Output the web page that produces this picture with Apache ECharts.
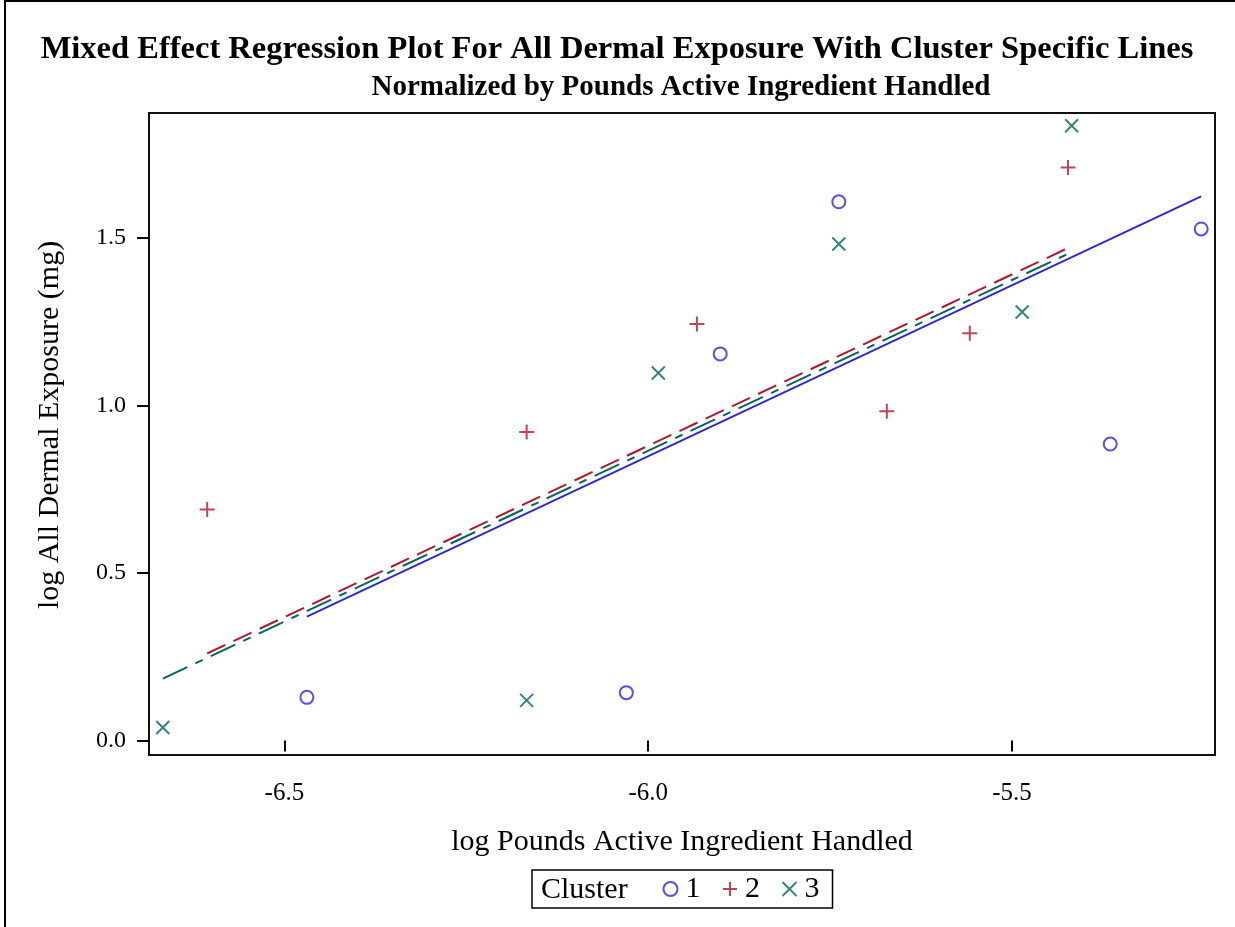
<!DOCTYPE html>
<html>
<head>
<meta charset="utf-8">
<script src="https://cdn.jsdelivr.net/npm/echarts@6/dist/echarts.min.js"></script>
<style>
html,body{margin:0;padding:0;background:#fff;}
#chart{width:1235px;height:927px;}
</style>
</head>
<body>
<div id="chart"></div>
<script>
// ---- Data ----
const cluster1X = [-6.469, -6.030, -5.901, -5.738, -5.365, -5.240];
const cluster1Y = [0.129, 0.143, 1.154, 1.608, 0.885, 1.527];
const cluster2X = [-6.606, -6.167, -5.933, -5.672, -5.558, -5.423];
const cluster2Y = [0.690, 0.921, 1.243, 0.983, 1.216, 1.710];
const cluster3X = [-6.667, -6.167, -5.986, -5.738, -5.486, -5.418];
const cluster3Y = [0.039, 0.120, 1.097, 1.482, 1.279, 1.835];

const fit1X = [-6.469, -5.240];
const fit1Y = [0.370, 1.624];
const fit2X = [-6.606, -5.423];
const fit2Y = [0.260, 1.470];
const fit3X = [-6.667, -5.418];
const fit3Y = [0.185, 1.458];

const clusterNames = ['1', '2', '3'];
const xTicks = [-6.5, -6.0, -5.5];
const yTicks = [0.0, 0.5, 1.0, 1.5];

const titleText = 'Mixed Effect Regression Plot For All Dermal Exposure With Cluster Specific Lines';
const subtitleText = 'Normalized by Pounds Active Ingredient Handled';
const xAxisTitle = 'log Pounds Active Ingredient Handled';
const yAxisTitle = 'log All Dermal Exposure (mg)';
const legendTitle = 'Cluster';

// ---- Styling ----
const C1 = '#2A25D9', C2 = '#B2182B', C3 = '#01665E';
const FONT = '"Liberation Serif", "DejaVu Serif", serif';

const pairs = (xs, ys) => xs.map((x, i) => [x, ys[i]]);
const PLUS = 'path://M5,0L5,10M0,5L10,5';
const CROSS = 'path://M0,0L10,10M10,0L0,10';

const chart = echarts.init(document.getElementById('chart'), null, {renderer: 'canvas'});

chart.setOption({
  animation: false,
  backgroundColor: '#fff',
  grid: {
    left: 149, right: 20, top: 113, bottom: 172,
    show: true, borderColor: '#111', borderWidth: 2, backgroundColor: 'transparent'
  },
  xAxis: {
    type: 'value',
    min: -6.686, max: -5.221,
    name: xAxisTitle, nameLocation: 'middle', nameGap: 72,
    nameTextStyle: {fontFamily: FONT, fontSize: 30, color: '#000'},
    axisLine: {show: false},
    axisTick: {show: true, length: 11, customValues: xTicks, lineStyle: {color: '#000', width: 2}},
    axisLabel: {customValues: xTicks, fontFamily: FONT, fontSize: 25, color: '#000', margin: 26,
      formatter: v => v.toFixed(1)},
    splitLine: {show: false}
  },
  yAxis: {
    type: 'value',
    min: -0.043, max: 1.873,
    name: yAxisTitle, nameLocation: 'middle', nameGap: 84, nameRotate: 90,
    nameTextStyle: {fontFamily: FONT, fontSize: 30, color: '#000', padding: [0, 0, 0, 18]},
    axisLine: {show: false},
    axisTick: {show: true, length: 12, customValues: yTicks, lineStyle: {color: '#000', width: 2}},
    axisLabel: {customValues: yTicks, fontFamily: FONT, fontSize: 24, color: '#000', margin: 23,
      formatter: v => v.toFixed(1)},
    splitLine: {show: false}
  },
  legend: {
    data: clusterNames,
    left: 532, top: 870,
    orient: 'horizontal',
    padding: [4, 13, 4, 129],
    itemGap: 20,
    itemWidth: 20, itemHeight: 14,
    borderColor: '#000', borderWidth: 1.5,
    textStyle: {fontFamily: FONT, fontSize: 30, color: '#000'},
    selectedMode: false
  },
  graphic: [
    {type: 'rect', shape: {x: 5, y: 1, width: 1400, height: 1100},
      style: {fill: 'none', stroke: '#000', lineWidth: 2}, silent: true},
    {type: 'text', x: 617, y: 50,
      style: {text: titleText, font: 'bold 32.5px ' + FONT, fill: '#000', textAlign: 'center', textVerticalAlign: 'middle'}},
    {type: 'text', x: 681, y: 88,
      style: {text: subtitleText, font: 'bold 29px ' + FONT, fill: '#000', textAlign: 'center', textVerticalAlign: 'middle'}},
    {type: 'text', x: 541, y: 890,
      style: {text: legendTitle, font: '30px ' + FONT, fill: '#000', textAlign: 'left', textVerticalAlign: 'middle'}}
  ],
  series: [
    {name: '1', type: 'scatter', data: pairs(cluster1X, cluster1Y), symbol: 'circle', symbolSize: 13,
      symbolKeepAspect: true,
      itemStyle: {color: 'none', borderColor: C1, borderWidth: 2}, z: 5},
    {name: '2', type: 'scatter', data: pairs(cluster2X, cluster2Y), symbol: PLUS, symbolSize: 15,
      symbolKeepAspect: true,
      itemStyle: {color: 'none', borderColor: C2, borderWidth: 2}, z: 5},
    {name: '3', type: 'scatter', data: pairs(cluster3X, cluster3Y), symbol: CROSS, symbolSize: 13,
      symbolKeepAspect: true,
      itemStyle: {color: 'none', borderColor: C3, borderWidth: 2}, z: 5},
    {name: 'fit1', type: 'line', data: pairs(fit1X, fit1Y), showSymbol: false, symbol: 'none',
      lineStyle: {color: C1, width: 1.8, type: 'solid'}, z: 3},
    {name: 'fit2', type: 'line', data: pairs(fit2X, fit2Y), showSymbol: false, symbol: 'none',
      lineStyle: {color: C2, width: 2, type: [20, 9]}, z: 3},
    {name: 'fit3', type: 'line', data: pairs(fit3X, fit3Y), showSymbol: false, symbol: 'none',
      lineStyle: {color: C3, width: 2, type: [27, 9, 8, 9]}, z: 3}
  ]
});
</script>
</body>
</html>
